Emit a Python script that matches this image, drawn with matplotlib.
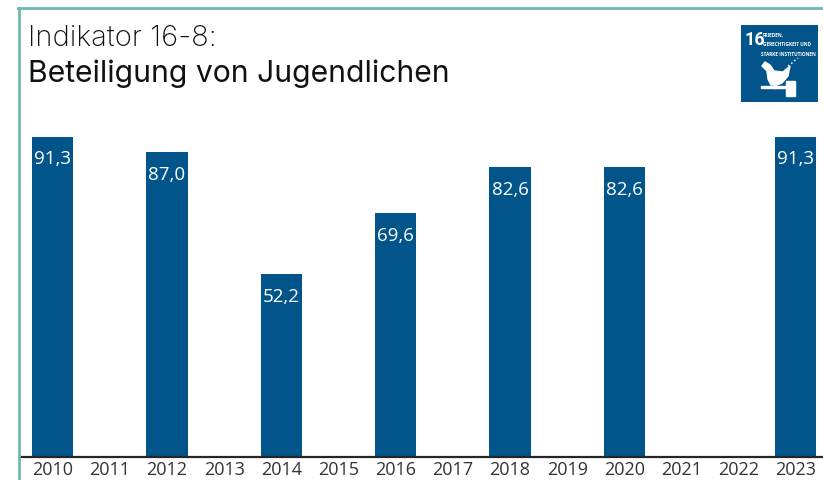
import numpy as np
import matplotlib
matplotlib.use('Agg')
import matplotlib.pyplot as plt
from matplotlib.patches import Polygon, Rectangle

years = [2010, 2011, 2012, 2013, 2014, 2015, 2016, 2017, 2018, 2019, 2020, 2021, 2022, 2023]
values = [91.3, np.nan, 87.0, np.nan, 52.2, np.nan, 69.6, np.nan, 82.6, np.nan, 82.6, np.nan, np.nan, 91.3]
title_top = 'Indikator 16-8:'
title_main = 'Beteiligung von Jugendlichen'

W, H = 823, 481
BLUE = '#02558b'
TEAL = '#6fb9ad'

plt.rcParams['font.family'] = ['Open Sans', 'DejaVu Sans']

fig = plt.figure(figsize=(W / 100, H / 100), dpi=100)

def px_axes(x0, y0, x1, y1):
    # pixel box, y counted from the top like in the reference
    return fig.add_axes([x0 / W, 1 - y1 / H, (x1 - x0) / W, (y1 - y0) / H])

# frame of the panel
fig.add_artist(plt.Line2D([18.5 / W, 18.5 / W], [0, 1 - 8.5 / H], color=TEAL, lw=2))
fig.add_artist(plt.Line2D([18 / W, 1], [1 - 8.5 / H, 1 - 8.5 / H], color=TEAL, lw=2))

fig.text(28 / W, 1 - 38 / H, title_top, fontsize=21, family='Inter', weight='light', va='center', color='#111111')
fig.text(28 / W, 1 - 74 / H, title_main, fontsize=21.7, family='Inter', va='center', color='#111111')

ax = px_axes(19.6, 108, 822.6, 458)
ax.bar(years, values, width=0.72, color=BLUE)
ax.set_xlim(2009.42, 2023.47)
ax.set_ylim(0, 350 / 3.505)
for y, v in zip(years, values):
    if not np.isnan(v):
        ax.annotate(f'{v:.1f}'.replace('.', ','), (y, v), xytext=(0, -9), textcoords='offset points',
                    ha='center', va='top', color='white', fontsize=13.5)
ax.set_xticks(years)
ax.set_xticklabels(years, fontsize=13, color='#333333')
ax.tick_params(axis='x', length=0, pad=2.5)
ax.set_yticks([])
for s in ['top', 'left', 'right']:
    ax.spines[s].set_visible(False)
ax.spines['bottom'].set_color('#262626')
ax.spines['bottom'].set_linewidth(1.6)

# SDG 16 icon
icon = px_axes(741, 26, 818, 103)
icon.set_xlim(0, 77)
icon.set_ylim(77, 0)
icon.axis('off')
icon.add_patch(Rectangle((0, 0), 77, 77, color=BLUE))
icon.text(3, 14, '16', color='white', fontsize=13, weight='bold', family='Roboto', va='center')
icon.text(22, 9, 'FRIEDEN,', color='white', fontsize=3.4, weight='bold', va='center')
icon.text(22, 18, 'GERECHTIGKEIT UND', color='white', fontsize=3.4, weight='bold', va='center')
icon.text(20, 28, 'STARKE INSTITUTIONEN', color='white', fontsize=3.4, weight='bold', va='center')
dove = [(24, 37), (29, 40), (33, 46), (42, 47), (49, 41), (47, 51), (41, 58), (36, 60), (30, 60),
        (27, 54), (26, 46), (21, 41)]
icon.add_patch(Polygon(dove, color='white'))
icon.plot([47, 50, 53, 57], [41, 39, 36, 33], color='white', lw=1.1, ls=':')
icon.add_patch(Rectangle((20, 61), 27, 2, color='white'))
icon.add_patch(Rectangle((33, 58), 2, 5, color='white'))
icon.add_patch(Rectangle((45, 56), 9, 15, color='white'))

fig.savefig('out.png', dpi=100)
